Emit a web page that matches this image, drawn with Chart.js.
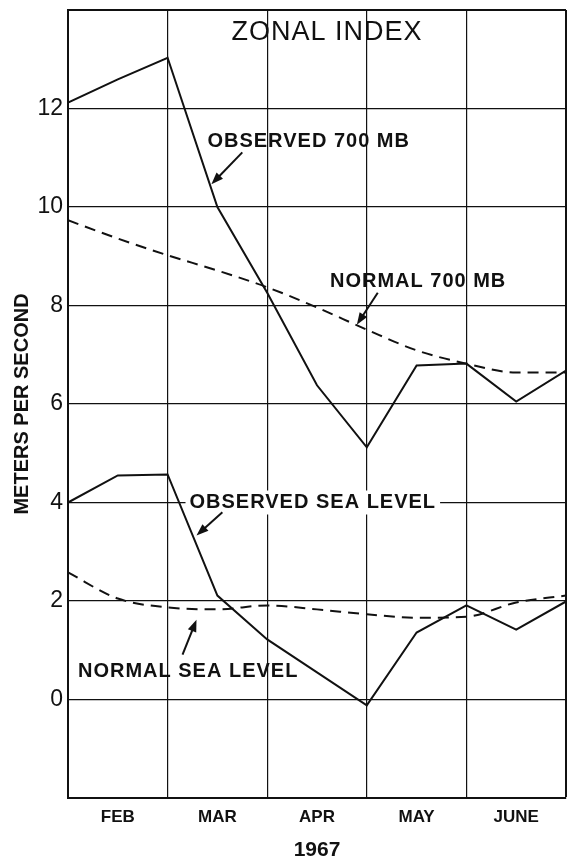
<!DOCTYPE html>
<html>
<head>
<meta charset="utf-8">
<script src="https://cdn.jsdelivr.net/npm/chart.js@4"></script>
<style>
  body { margin: 0; background: #fff; }
  canvas { display: block; }
</style>
</head>
<body>
<canvas id="chart1" width="567" height="864"></canvas>
<script>
const months = ['FEB', 'MAR', 'APR', 'MAY', 'JUNE'];
// half-month positions, 0 = start of Feb, 5 = end of June
const xPos = [0, 0.5, 1, 1.5, 2, 2.5, 3, 3.5, 4, 4.5, 5];
const observed700 = [12.12, 12.59, 13.03, 10.0, 8.26, 6.38, 5.12, 6.78, 6.82, 6.05, 6.68];
const normal700 = [9.73, 9.36, 9.02, 8.71, 8.37, 7.96, 7.51, 7.09, 6.82, 6.64, 6.64];
const observedSea = [4.0, 4.55, 4.57, 2.11, 1.22, 0.55, -0.12, 1.36, 1.91, 1.42, 1.99];
const normalSea = [2.58, 2.05, 1.87, 1.83, 1.91, 1.83, 1.73, 1.66, 1.68, 1.97, 2.11];
const yTickLabels = [0, 2, 4, 6, 8, 10, 12];

const ink = '#111';
const FONT = "'Liberation Sans', Arial, sans-serif";

// labels and arrows, placed in data units
const notes = [
  {text: 'OBSERVED 700 MB', x: 1.40, y: 11.33, arrow: [1.75, 11.11, 1.44, 10.46]},
  {text: 'NORMAL 700 MB', x: 2.63, y: 8.49, arrow: [3.11, 8.26, 2.90, 7.61]},
  {text: 'OBSERVED SEA LEVEL', x: 1.22, y: 4.0, arrow: [1.55, 3.80, 1.29, 3.33], bg: true},
  {text: 'NORMAL SEA LEVEL', x: 0.10, y: 0.57, arrow: [1.15, 0.91, 1.29, 1.62]}
];

function pts(vals) {
  return vals.map((v, i) => ({x: xPos[i], y: v}));
}

const notesPlugin = {
  id: 'notes',
  afterDatasetsDraw(chart) {
    const {ctx, scales: {x, y}} = chart;
    ctx.save();
    // title
    ctx.fillStyle = ink;
    ctx.font = '27px ' + FONT;
    ctx.letterSpacing = '1px';
    ctx.textAlign = 'center';
    ctx.textBaseline = 'middle';
    ctx.fillText('ZONAL INDEX', x.getPixelForValue(2.6), y.getPixelForValue(13.54));

    ctx.font = 'bold 20px ' + FONT;
    ctx.textAlign = 'left';
    notes.forEach(n => {
      const px = x.getPixelForValue(n.x), py = y.getPixelForValue(n.y);
      if (n.bg) {
        const w = ctx.measureText(n.text).width;
        ctx.fillStyle = '#fff';
        ctx.fillRect(px - 4, py - 12, w + 8, 24);
      }
      ctx.fillStyle = ink;
      ctx.fillText(n.text, px, py);

      const [ax1, ay1, ax2, ay2] = n.arrow;
      const x1 = x.getPixelForValue(ax1), y1 = y.getPixelForValue(ay1);
      const x2 = x.getPixelForValue(ax2), y2 = y.getPixelForValue(ay2);
      const ang = Math.atan2(y2 - y1, x2 - x1);
      ctx.strokeStyle = ink;
      ctx.lineWidth = 2;
      ctx.beginPath();
      ctx.moveTo(x1, y1);
      ctx.lineTo(x2 - 6 * Math.cos(ang), y2 - 6 * Math.sin(ang));
      ctx.stroke();
      ctx.beginPath();
      ctx.moveTo(x2, y2);
      ctx.lineTo(x2 - 12 * Math.cos(ang) + 4.5 * Math.sin(ang), y2 - 12 * Math.sin(ang) - 4.5 * Math.cos(ang));
      ctx.lineTo(x2 - 12 * Math.cos(ang) - 4.5 * Math.sin(ang), y2 - 12 * Math.sin(ang) + 4.5 * Math.cos(ang));
      ctx.closePath();
      ctx.fill();
    });
    ctx.restore();
  }
};

const solid = {borderColor: ink, borderWidth: 2, pointRadius: 0, tension: 0, fill: false};
const dashed = {borderColor: ink, borderWidth: 2, borderDash: [11, 7], pointRadius: 0,
  cubicInterpolationMode: 'monotone', fill: false};

new Chart(document.getElementById('chart1'), {
  type: 'line',
  data: {
    datasets: [
      {label: 'Observed 700 mb', data: pts(observed700), ...solid},
      {label: 'Normal 700 mb', data: pts(normal700), ...dashed},
      {label: 'Observed sea level', data: pts(observedSea), ...solid},
      {label: 'Normal sea level', data: pts(normalSea), ...dashed}
    ]
  },
  options: {
    responsive: false,
    animation: false,
    layout: {padding: {top: 10, right: 1, left: 0, bottom: 0}},
    plugins: {legend: {display: false}, tooltip: {enabled: false}},
    scales: {
      x: {
        type: 'linear',
        min: 0,
        max: 5,
        afterBuildTicks(scale) {
          scale.ticks = xPos.map(v => ({value: v}));
        },
        afterFit(scale) {
          scale.height = 66;
          scale.paddingLeft = 0;
          scale.paddingRight = 0;
        },
        grid: {
          drawTicks: false,
          color: c => (c.tick && c.tick.value % 1 === 0) ? ink : 'rgba(0,0,0,0)',
          lineWidth: c => (c.tick && c.tick.value === 5) ? 2 : 1.2
        },
        border: {color: ink, width: 2},
        ticks: {
          padding: 9,
          autoSkip: false,
          maxRotation: 0,
          color: ink,
          font: {family: FONT, size: 17, weight: 'bold'},
          callback: v => (v % 1 !== 0) ? months[Math.floor(v)] : ''
        },
        title: {
          display: true,
          text: '1967',
          color: ink,
          font: {family: FONT, size: 21, weight: 'bold'},
          padding: {top: 0, bottom: 1}
        }
      },
      y: {
        min: -2,
        max: 14,
        afterBuildTicks(scale) {
          scale.ticks = [-2, ...yTickLabels, 14].map(v => ({value: v}));
        },
        afterFit(scale) {
          scale.width = 68;
          scale.paddingTop = 0;
          scale.paddingBottom = 0;
        },
        grid: {
          drawTicks: false,
          color: ink,
          lineWidth: c => (c.tick && c.tick.value === 14) ? 2 : 1.2
        },
        border: {color: ink, width: 2},
        ticks: {
          padding: 5,
          color: ink,
          font: {family: FONT, size: 23},
          callback: v => yTickLabels.includes(v) ? String(v) : ''
        },
        title: {
          display: true,
          text: 'METERS PER SECOND',
          color: ink,
          font: {family: FONT, size: 20, weight: 'bold'},
          padding: {top: 10, bottom: 0}
        }
      }
    }
  },
  plugins: [notesPlugin]
});
</script>
</body>
</html>
